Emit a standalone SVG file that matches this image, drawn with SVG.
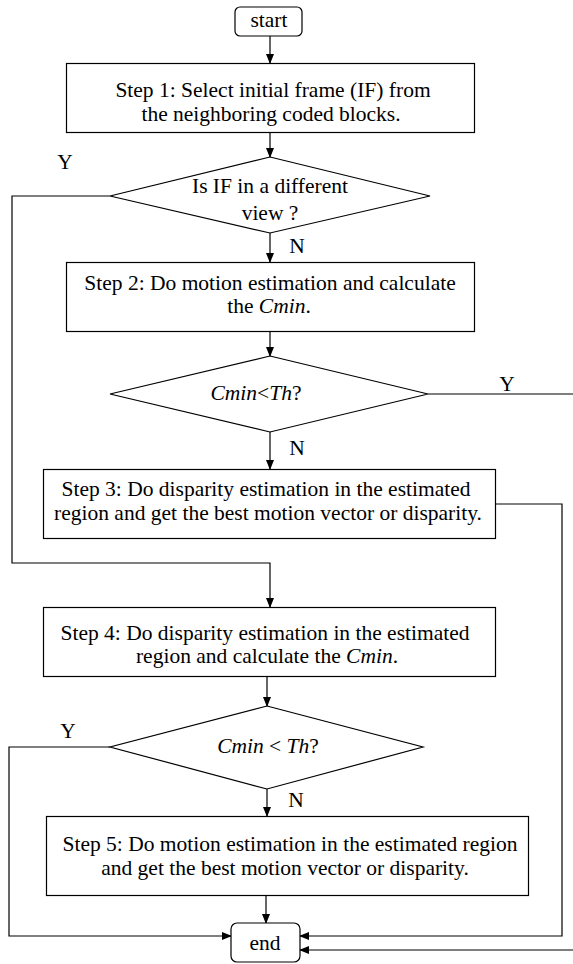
<svg xmlns="http://www.w3.org/2000/svg" width="573" height="964" viewBox="0 0 573 964">
<defs>
<marker id="ah" markerWidth="10" markerHeight="8" refX="9" refY="4" orient="auto" markerUnits="userSpaceOnUse">
<path d="M0,0 L10,4 L0,8 Z" fill="#000"/>
</marker>
<style>
.n{fill:#fff;stroke:#000;stroke-width:1.2}
.c{fill:none;stroke:#000;stroke-width:1.2}
.a{marker-end:url(#ah)}
text{font-family:"Liberation Serif","Times New Roman",serif;font-size:21.5px;fill:#000;text-anchor:middle}
.i{font-style:italic}
</style>
</defs>
<rect width="573" height="964" fill="#fff"/>
<g id="connectors">
<path class="c a" d="M270,36 V63"/>
<path class="c a" d="M270,133 V157"/>
<path class="c a" d="M270,233 V262"/>
<path class="c a" d="M270,332 V356"/>
<path class="c a" d="M270,432 V469"/>
<path class="c a" d="M110,196 H12 V563 H270 V607"/>
<path class="c a" d="M267,677 V706"/>
<path class="c a" d="M267,789 V816"/>
<path class="c a" d="M266,896 V923"/>
<path class="c a" d="M110,747 H9 V936 H231"/>
<path class="c a" d="M495,504 H562 V936 H300"/>
<path class="c" d="M428,394 H573"/>
<path class="c a" d="M573,950 H300"/>
<text x="65" y="169">Y</text>
<text x="297" y="253">N</text>
<text x="507" y="391">Y</text>
<text x="297" y="455">N</text>
<text x="68" y="738">Y</text>
<text x="296" y="807">N</text>
</g>
<g id="start">
<rect class="n" x="235" y="7" width="67" height="29" rx="5"/>
<text x="269" y="27">start</text>
</g>
<g id="step1">
<rect class="n" x="66.5" y="63.5" width="408" height="69"/>
<text x="273" y="97">Step 1: Select initial frame (IF) from</text>
<text x="271" y="121">the neighboring coded blocks.</text>
</g>
<g id="dec1">
<polygon class="n" points="270,157 430,196 270,233 110,196"/>
<text x="270" y="193">Is IF in a different</text>
<text x="270" y="220">view ?</text>
</g>
<g id="step2">
<rect class="n" x="66.5" y="262.5" width="408" height="69"/>
<text x="270" y="290">Step 2: Do motion estimation and calculate</text>
<text x="269" y="313">the <tspan class="i">Cmin</tspan>.</text>
</g>
<g id="dec2">
<polygon class="n" points="270,356 428,394 270,432 110,394"/>
<text x="256" y="400"><tspan class="i">Cmin</tspan>&lt;<tspan class="i">Th</tspan>?</text>
</g>
<g id="step3">
<rect class="n" x="43.5" y="469.5" width="452" height="69"/>
<text x="266" y="496">Step 3: Do disparity estimation in the estimated</text>
<text x="268" y="520">region and get the best motion vector or disparity.</text>
</g>
<g id="step4">
<rect class="n" x="43.5" y="607.5" width="452" height="69"/>
<text x="265" y="640">Step 4: Do disparity estimation in the estimated</text>
<text x="267" y="663">region and calculate the <tspan class="i">Cmin</tspan>.</text>
</g>
<g id="dec3">
<polygon class="n" points="267,706 423,747 267,789 110,747"/>
<text x="268" y="753"><tspan class="i">Cmin</tspan> &lt; <tspan class="i">Th</tspan>?</text>
</g>
<g id="step5">
<rect class="n" x="46.5" y="816.5" width="482" height="79"/>
<text x="290" y="851">Step 5: Do motion estimation in the estimated region</text>
<text x="285" y="875">and get the best motion vector or disparity.</text>
</g>
<g id="end">
<rect class="n" x="231" y="923" width="69" height="39" rx="6"/>
<text x="265" y="950">end</text>
</g>
</svg>
